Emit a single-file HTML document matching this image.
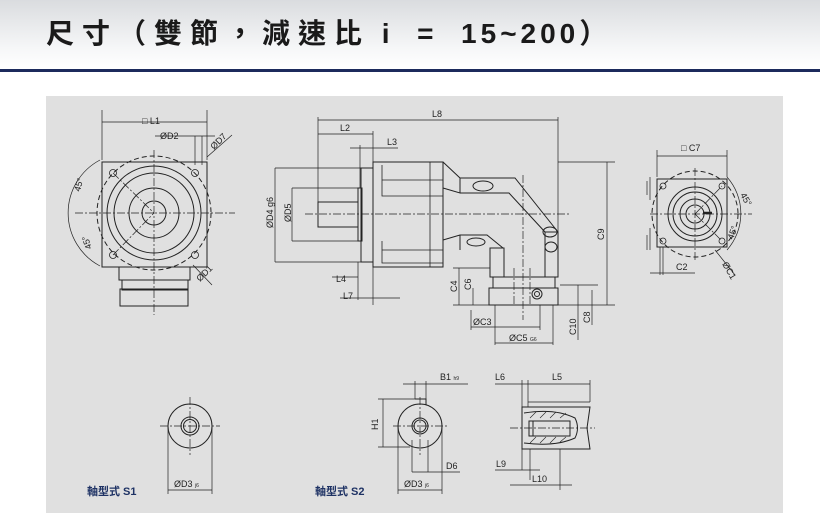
<!DOCTYPE html>
<html><head><meta charset="utf-8"><style>
html,body{margin:0;padding:0;background:#fff;}
body{width:820px;height:526px;position:relative;overflow:hidden;font-family:"Liberation Sans","Noto Sans CJK TC",sans-serif;}
.hdr{position:absolute;left:0;top:0;width:820px;height:69px;background:linear-gradient(#dadcdf,#f6f7f8 70%,#fff);}
.bar{position:absolute;left:0;top:69px;width:820px;height:3px;background:#1c2a5c;}
.title{position:absolute;left:46px;top:12px;font-size:28px;font-weight:bold;color:#1a1a1a;letter-spacing:8px;white-space:pre;}
.title span{letter-spacing:4px;}
.panel{position:absolute;left:46px;top:96px;width:737px;height:417px;background:#e0e0e0;}
svg{position:absolute;left:0;top:0;}
text{font-family:"Liberation Sans",sans-serif;font-size:9px;fill:#222;}
.lb{font-family:"Liberation Sans","Noto Sans CJK TC",sans-serif;font-size:11px;font-weight:bold;fill:#1e3264;}
</style></head><body>
<div class="hdr"></div><div class="bar"></div>
<div class="title">尺寸（雙節，減速比<span> i  =  15~200</span>）</div>
<div class="panel"></div>
<svg width="820" height="526" viewBox="0 0 820 526">
<g fill="none" stroke="#222" stroke-width="1">
<!-- LEFT VIEW -->
<rect x="102" y="162" width="105" height="105"/>
<circle cx="154" cy="213" r="57" stroke-dasharray="5,3"/>
<circle cx="154" cy="213" r="47"/>
<circle cx="154" cy="213" r="40"/>
<circle cx="154" cy="213" r="25"/>
<circle cx="154" cy="213" r="12"/>
<g stroke-width="0.8">
<circle cx="113" cy="173" r="3.5"/><circle cx="195" cy="173" r="3.5"/>
<circle cx="113" cy="255" r="3.5"/><circle cx="195" cy="255" r="3.5"/>
</g>
<path d="M75 213H235M154 150V315M113 173L154 213M113 255L154 213" stroke-dasharray="8,2,2,2" stroke-width="0.7"/>
<path d="M119 267V280H190V267M122 280V290H188V280M120 289H188V306H120Z"/>
<path d="M102 160V110M207 160V110M102 122H207M155 136H215M195 136V165M202 136V165M207 157L232 135M193 265L212 285" stroke-width="0.7"/>
<path d="M100 160A60 60 0 0 0 100 266" stroke-width="0.7"/>
<!-- CENTER VIEW -->
<path d="M318 202H358V227H318Z"/>
<path d="M358 188H362V241H358Z"/>
<path d="M361 168H373V262H361Z"/>
<path d="M373 162H443V267H373Z"/>
<path d="M382 165V180H443M382 180V196H443M382 241V250H443M382 250V263H443M430 162V267" stroke-width="0.8"/>
<path d="M443 162L460 178V193L443 188M460 178H515L558 232M460 193H509L545 232" />
<path d="M443 240L460 235H487L503 248M460 235V250"/>
<path d="M490 248H504V277H490Z"/>
<path d="M545 232H558V277H545ZM490 277H558"/>
<path d="M489 288H558V305H489Z"/>
<path d="M493 277V288M555 277V288"/>
<ellipse cx="483" cy="186" rx="10" ry="5"/><ellipse cx="550" cy="232" rx="7" ry="5"/><ellipse cx="476" cy="242" rx="9" ry="4"/><ellipse cx="551" cy="247" rx="6" ry="5"/>
<circle cx="537" cy="294" r="5"/><circle cx="537" cy="294" r="2.5"/>
<path d="M305 214H570M523 175V320M514 268V305M530 268V305" stroke-dasharray="8,2,2,2" stroke-width="0.7"/>
<g stroke-width="0.7">
<path d="M318 117V202M558 117V232M318 120H558M318 134H373M373 131V162M350 148H398M373 145V162M360 145V188"/>
<path d="M275 168H361M275 262H361M275 168V262M292 188H358M292 241H358M292 188V241"/>
<path d="M332 277H358M340 298H400M358 262V300M373 267V305"/>
<path d="M453 268H490M453 305H489M459 268V305M473 288V305M558 305H615M558 162H615M607 162V305"/>
<path d="M560 285H598M578 285V340M592 290V325M471 310V330M540 305V330M471 327H540M495 305V345M553 305V345M495 343H553"/>
</g>
<!-- RIGHT VIEW -->
<rect x="657" y="179" width="70" height="68"/>
<circle cx="695" cy="214" r="43" stroke-dasharray="5,3"/>
<circle cx="695" cy="214" r="27"/><circle cx="695" cy="214" r="22"/><circle cx="695" cy="214" r="15"/><circle cx="695" cy="214" r="9"/>
<g stroke-width="0.8"><circle cx="663" cy="186" r="3"/><circle cx="722" cy="186" r="3"/><circle cx="663" cy="241" r="3"/><circle cx="722" cy="241" r="3"/></g>
<path d="M650 214H752M695 168V262M695 214L722 186M695 214L722 241" stroke-dasharray="8,2,2,2" stroke-width="0.7"/>
<path d="M703 213H712" stroke-width="2.5"/>
<path d="M657 177V150M727 177V150M657 156H727M650 177V200M650 228V250M647 181V195M647 235V250M660 247V275M663 247V275M650 273H695M715 250L735 275" stroke-width="0.7"/>
<path d="M727 177A55 55 0 0 1 727 250" stroke-width="0.7"/>
<!-- S1 -->
<circle cx="190" cy="426" r="22"/><circle cx="190" cy="426" r="9"/><circle cx="190" cy="426" r="6.5"/>
<path d="M160 426H220M190 397V455" stroke-dasharray="8,2,2,2" stroke-width="0.7"/>
<path d="M168 426V494M212 426V494M168 490H212" stroke-width="0.7"/>
<!-- S2 -->
<circle cx="420" cy="426" r="22"/><circle cx="420" cy="426" r="8"/><circle cx="420" cy="426" r="6"/>
<path d="M415 399H426V405"/>
<path d="M393 426H447M420 397V455" stroke-dasharray="8,2,2,2" stroke-width="0.7"/>
<path d="M383 399V447M378 399H415M378 447H410M415 381V399M426 381V399M403 384H468M398 426V494M442 426V494M398 490H442M412 440V472M428 440V472M412 472H460" stroke-width="0.7"/>
<!-- section -->
<path d="M522 407H590L587 428L590 449H522Z"/>
<path d="M528 402H590M528 380V407M522 380V470M590 380V402M495 384H590M530 449V480M560 449V490M495 470H540M510 485H572" stroke-width="0.7"/>
<path d="M524 413Q555 408 575 418Q580 428 575 438Q555 447 524 443" />
<path d="M529 421H570V436H529Z"/><path d="M533 421V436"/>
<path d="M530 418L536 412M540 418L546 412M550 418L556 412M560 418L566 413M530 443L536 437M540 443L546 437M550 443L556 437M560 442L566 437" stroke-width="0.6"/>
<path d="M510 428H595" stroke-dasharray="8,2,2,2" stroke-width="0.7"/>
</g>
<g>
<text x="142" y="124">□ L1</text><text x="160" y="139">ØD2</text>
<text x="214" y="150" transform="rotate(-45 214 150)">ØD7</text>
<text x="200" y="282" transform="rotate(-45 200 282)">ØD1</text>
<text x="80" y="192" transform="rotate(-75 80 192)">45°</text>
<text x="92" y="248" transform="rotate(-110 92 248)">45°</text>
<text x="432" y="117">L8</text><text x="340" y="131">L2</text><text x="387" y="145">L3</text>
<text x="273" y="228" transform="rotate(-90 273 228)">ØD4 g6</text>
<text x="291" y="222" transform="rotate(-90 291 222)">ØD5</text>
<text x="336" y="282">L4</text><text x="343" y="299">L7</text>
<text x="457" y="292" transform="rotate(-90 457 292)">C4</text>
<text x="471" y="290" transform="rotate(-90 471 290)">C6</text>
<text x="604" y="240" transform="rotate(-90 604 240)">C9</text>
<text x="576" y="335" transform="rotate(-90 576 335)">C10</text>
<text x="590" y="323" transform="rotate(-90 590 323)">C8</text>
<text x="473" y="325">ØC3</text><text x="509" y="341">ØC5 <tspan font-size="5">G6</tspan></text>
<text x="681" y="151">□ C7</text><text x="676" y="270">C2</text>
<text x="740" y="195" transform="rotate(60 740 195)">45°</text>
<text x="733" y="240" transform="rotate(-70 733 240)">45°</text>
<text x="722" y="264" transform="rotate(60 722 264)">ØC1</text>
<text x="174" y="487">ØD3 <tspan font-size="5">j6</tspan></text>
<text x="404" y="487">ØD3 <tspan font-size="5">j6</tspan></text>
<text x="378" y="430" transform="rotate(-90 378 430)">H1</text>
<text x="440" y="380">B1 <tspan font-size="5">h9</tspan></text>
<text x="446" y="469">D6</text>
<text x="495" y="380">L6</text><text x="552" y="380">L5</text>
<text x="496" y="467">L9</text><text x="532" y="482">L10</text>
<text class="lb" x="87" y="495">軸型式 S1</text>
<text class="lb" x="315" y="495">軸型式 S2</text>
</g>
</svg>
</body></html>
